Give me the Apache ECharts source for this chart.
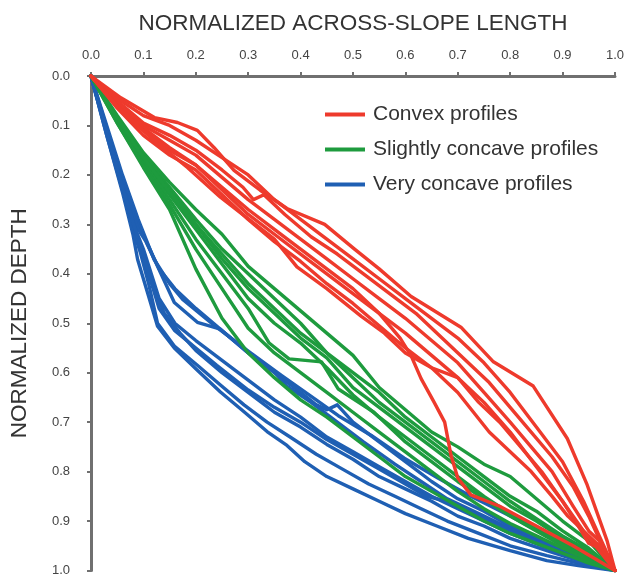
<!DOCTYPE html>
<html><head><meta charset="utf-8">
<script src="https://cdn.jsdelivr.net/npm/echarts@6/dist/echarts.min.js"></script>
<style>html,body{margin:0;padding:0;background:#fff}#c{width:627px;height:577px}</style>
</head><body><div id="c"></div>
<script>
var xTicks = [0,0.1,0.2,0.3,0.4,0.5,0.6,0.7,0.8,0.9,1.0];
var yTicks = [0,0.1,0.2,0.3,0.4,0.5,0.6,0.7,0.8,0.9,1.0];
var groupNames = ['Convex profiles','Slightly concave profiles','Very concave profiles'];
var groupColors = ['#ee3a2c','#1e9b3e','#1f5fb3'];
var gridX = [0,0.05,0.1,0.15,0.2,0.25,0.3,0.35,0.4,0.45,0.5,0.55,0.6,0.65,0.7,0.75,0.8,0.85,0.9,0.95,1];

var convex = [
 [[0,0],[0.057,0.044],[0.121,0.084],[0.165,0.094],[0.203,0.11],[0.235,0.145],[0.273,0.191],[0.323,0.231],[0.374,0.268],[0.446,0.30],[0.503,0.35],[0.55,0.39],[0.611,0.446],[0.706,0.508],[0.768,0.578],[0.844,0.627],[0.909,0.733],[0.947,0.827],[0.985,0.94],[1,1]],
 [[0,0],[0.05,0.045],[0.1,0.08],[0.15,0.1],[0.2,0.13],[0.25,0.165],[0.3,0.2],[0.35,0.25],[0.4,0.29],[0.45,0.33],[0.5,0.37],[0.55,0.41],[0.6,0.45],[0.65,0.49],[0.7,0.53],[0.75,0.58],[0.8,0.64],[0.85,0.71],[0.9,0.78],[0.94,0.86],[0.97,0.93],[1,1]],
 [[0,0],[0.05,0.05],[0.1,0.095],[0.15,0.12],[0.2,0.15],[0.25,0.19],[0.29,0.225],[0.31,0.25],[0.33,0.24],[0.37,0.28],[0.42,0.325],[0.47,0.36],[0.52,0.40],[0.57,0.44],[0.62,0.48],[0.67,0.53],[0.72,0.58],[0.76,0.62],[0.8,0.67],[0.84,0.72],[0.88,0.77],[0.92,0.83],[0.95,0.89],[0.98,0.96],[1,1]],
 [[0,0],[0.05,0.055],[0.1,0.10],[0.15,0.13],[0.2,0.16],[0.25,0.205],[0.3,0.25],[0.35,0.29],[0.4,0.33],[0.45,0.37],[0.5,0.41],[0.55,0.45],[0.6,0.49],[0.65,0.535],[0.7,0.58],[0.75,0.64],[0.8,0.70],[0.84,0.75],[0.88,0.80],[0.92,0.87],[0.95,0.92],[0.97,0.94],[1,1]],
 [[0,0],[0.05,0.06],[0.1,0.105],[0.15,0.145],[0.2,0.18],[0.25,0.225],[0.3,0.27],[0.35,0.31],[0.4,0.35],[0.45,0.39],[0.5,0.43],[0.55,0.48],[0.59,0.53],[0.611,0.566],[0.63,0.612],[0.655,0.66],[0.675,0.7],[0.687,0.767],[0.7,0.813],[0.725,0.847],[0.78,0.87],[0.85,0.91],[0.92,0.95],[1,1]],
 [[0,0],[0.05,0.06],[0.1,0.11],[0.15,0.15],[0.2,0.18],[0.25,0.23],[0.3,0.28],[0.35,0.32],[0.4,0.36],[0.45,0.40],[0.5,0.44],[0.55,0.48],[0.6,0.52],[0.65,0.565],[0.7,0.61],[0.74,0.66],[0.78,0.70],[0.82,0.75],[0.86,0.80],[0.9,0.86],[0.93,0.91],[0.95,0.945],[0.97,0.955],[1,1]],
 [[0,0],[0.05,0.065],[0.1,0.12],[0.15,0.16],[0.2,0.19],[0.25,0.24],[0.3,0.29],[0.35,0.335],[0.4,0.375],[0.45,0.42],[0.5,0.46],[0.55,0.505],[0.6,0.55],[0.65,0.59],[0.7,0.64],[0.73,0.68],[0.76,0.72],[0.8,0.76],[0.84,0.80],[0.88,0.85],[0.91,0.89],[0.94,0.92],[0.97,0.95],[1,1]],
 [[0,0],[0.057,0.07],[0.12,0.13],[0.184,0.185],[0.247,0.245],[0.31,0.297],[0.35,0.33],[0.393,0.386],[0.45,0.43],[0.516,0.486],[0.56,0.52],[0.6,0.56],[0.65,0.59],[0.7,0.61],[0.75,0.66],[0.8,0.72],[0.85,0.79],[0.9,0.86],[0.94,0.92],[0.97,0.96],[1,1]]
];

var slightG1 = [0,0.08,0.155,0.215,0.27,0.32,0.385,0.43,0.475,0.52,0.565,0.63,0.675,0.72,0.75,0.785,0.81,0.855,0.9,0.94,1];
var slightG2 = [0,0.085,0.16,0.225,0.29,0.35,0.40,0.45,0.50,0.56,0.60,0.64,0.69,0.73,0.77,0.81,0.85,0.88,0.92,0.955,1];
var slightG3 = [0,0.085,0.165,0.23,0.30,0.37,0.43,0.48,0.53,0.57,0.63,0.67,0.71,0.75,0.79,0.83,0.87,0.90,0.935,0.965,1];
var slightG4 = [0,0.09,0.17,0.24,0.31,0.38,0.45,0.50,0.54,0.59,0.645,0.69,0.73,0.77,0.81,0.85,0.885,0.915,0.945,0.97,1];
var slightG6 = [0,0.095,0.18,0.26,0.35,0.43,0.51,0.56,0.60,0.64,0.68,0.72,0.76,0.80,0.84,0.875,0.905,0.93,0.955,0.98,1];
var slightG7 = [0,0.095,0.185,0.27,0.39,0.49,0.56,0.61,0.655,0.69,0.73,0.77,0.81,0.84,0.87,0.90,0.925,0.945,0.965,0.985,1];
var slightG8 = [0,0.085,0.165,0.235,0.30,0.36,0.42,0.47,0.52,0.56,0.61,0.66,0.70,0.74,0.78,0.82,0.86,0.895,0.93,0.96,1];
var slightG5 = [[0,0],[0.05,0.09],[0.1,0.175],[0.15,0.25],[0.2,0.33],[0.25,0.40],[0.3,0.47],[0.34,0.54],[0.378,0.572],[0.44,0.578],[0.472,0.633],[0.54,0.68],[0.6,0.74],[0.65,0.78],[0.7,0.82],[0.75,0.855],[0.8,0.89],[0.85,0.92],[0.9,0.95],[0.95,0.975],[1,1]];

var veryConcave = [
 [[0,0],[0.03,0.1],[0.06,0.2],[0.09,0.29],[0.105,0.33],[0.12,0.37],[0.15,0.42],[0.175,0.452],[0.237,0.506],[0.302,0.558],[0.364,0.606],[0.427,0.653],[0.472,0.687],[0.535,0.727],[0.598,0.773],[0.662,0.813],[0.725,0.85],[0.8,0.89],[0.87,0.93],[0.93,0.96],[1,1]],
 [[0,0],[0.03,0.105],[0.06,0.21],[0.09,0.3],[0.11,0.345],[0.13,0.39],[0.16,0.43],[0.2,0.47],[0.25,0.515],[0.3,0.56],[0.35,0.6],[0.4,0.64],[0.43,0.665],[0.45,0.675],[0.47,0.665],[0.5,0.7],[0.55,0.74],[0.6,0.78],[0.65,0.82],[0.7,0.855],[0.75,0.88],[0.8,0.91],[0.87,0.945],[0.93,0.97],[1,1]],
 [[0,0],[0.03,0.11],[0.06,0.22],[0.09,0.31],[0.105,0.335],[0.121,0.371],[0.159,0.458],[0.203,0.498],[0.247,0.512],[0.298,0.558],[0.349,0.598],[0.374,0.627],[0.42,0.66],[0.47,0.7],[0.52,0.74],[0.58,0.785],[0.63,0.82],[0.68,0.855],[0.74,0.885],[0.8,0.915],[0.87,0.95],[0.93,0.975],[1,1]],
 [[0,0],[0.03,0.11],[0.06,0.22],[0.085,0.31],[0.1,0.35],[0.115,0.4],[0.13,0.45],[0.16,0.5],[0.2,0.535],[0.25,0.575],[0.3,0.615],[0.35,0.655],[0.4,0.69],[0.45,0.73],[0.5,0.76],[0.55,0.79],[0.6,0.82],[0.65,0.85],[0.7,0.875],[0.75,0.9],[0.8,0.925],[0.86,0.95],[0.93,0.975],[1,1]],
 [[0,0],[0.03,0.115],[0.06,0.225],[0.085,0.32],[0.1,0.36],[0.12,0.43],[0.14,0.48],[0.17,0.52],[0.2,0.555],[0.25,0.6],[0.3,0.64],[0.35,0.68],[0.4,0.71],[0.45,0.745],[0.5,0.775],[0.55,0.81],[0.6,0.835],[0.65,0.86],[0.7,0.89],[0.75,0.91],[0.8,0.935],[0.87,0.96],[0.93,0.98],[1,1]],
 [[0,0],[0.03,0.12],[0.06,0.23],[0.08,0.31],[0.095,0.36],[0.11,0.42],[0.127,0.5],[0.159,0.546],[0.203,0.585],[0.247,0.625],[0.292,0.665],[0.336,0.7],[0.38,0.73],[0.43,0.765],[0.48,0.795],[0.53,0.825],[0.58,0.85],[0.63,0.875],[0.68,0.9],[0.74,0.925],[0.8,0.95],[0.87,0.97],[0.93,0.985],[1,1]],
 [[0,0],[0.03,0.12],[0.06,0.235],[0.08,0.32],[0.089,0.371],[0.127,0.506],[0.159,0.55],[0.203,0.595],[0.247,0.639],[0.292,0.679],[0.336,0.719],[0.374,0.747],[0.408,0.78],[0.45,0.81],[0.5,0.835],[0.55,0.86],[0.6,0.885],[0.66,0.91],[0.72,0.935],[0.8,0.96],[0.87,0.98],[0.93,0.99],[1,1]],
 [[0,0],[0.03,0.115],[0.06,0.225],[0.09,0.33],[0.11,0.4],[0.13,0.47],[0.16,0.515],[0.2,0.55],[0.24,0.585],[0.3,0.635],[0.35,0.67],[0.4,0.7],[0.45,0.735],[0.5,0.765],[0.55,0.795],[0.6,0.825],[0.64,0.85],[0.68,0.86],[0.72,0.88],[0.78,0.91],[0.85,0.94],[0.92,0.965],[1,1]]
];

function zipGrid(ys){ return ys.map(function(y,i){ return [gridX[i], y]; }); }
var slight = [zipGrid(slightG1), zipGrid(slightG2), zipGrid(slightG3), zipGrid(slightG4), slightG5, zipGrid(slightG6), zipGrid(slightG7), zipGrid(slightG8)];

var groups = [veryConcave, slight, convex];
var groupIdx = [2, 1, 0];
var series = [];
groups.forEach(function(lines, gi){
  var k = groupIdx[gi];
  lines.forEach(function(pts){
    series.push({
      type: 'line', name: groupNames[k], data: pts, showSymbol: false, symbol: 'none',
      lineStyle: { color: groupColors[k], width: 3.4, join: 'round', cap: 'round' },
      itemStyle: { color: groupColors[k] },
      emphasis: { disabled: true }, silent: true
    });
  });
});

var font = '"Liberation Sans", Arial, Helvetica, sans-serif';
var chart = echarts.init(document.getElementById('c'), null, { renderer: 'canvas' });
chart.setOption({
  animation: false,
  backgroundColor: '#fff',
  grid: { left: 88, right: 12, top: 76, bottom: 3, containLabel: false },
  legend: {
    data: groupNames, left: 320, top: 99, orient: 'vertical', itemGap: 14,
    icon: 'rect', itemWidth: 40, itemHeight: 4, selectedMode: false,
    textStyle: { fontFamily: font, fontSize: 21, color: '#333', padding: [0,0,0,3] }
  },
  xAxis: {
    type: 'value', position: 'top', min: 0, max: 1, interval: 0.1,
    name: 'NORMALIZED ACROSS-SLOPE LENGTH', nameLocation: 'middle', nameGap: 41,
    nameTextStyle: { fontFamily: font, fontSize: 22.5, color: '#333' },
    axisLine: { show: true, onZero: false, lineStyle: { color: '#707070', width: 3 } },
    axisTick: { show: true, inside: false, length: 4, lineStyle: { color: '#707070', width: 2 } },
    axisLabel: { fontFamily: font, fontSize: 13, color: '#444', margin: 14,
      formatter: function(v){ return v.toFixed(1); } },
    splitLine: { show: false }
  },
  yAxis: {
    type: 'value', inverse: true, min: 0, max: 1, interval: 0.1,
    name: 'NORMALIZED DEPTH', nameLocation: 'middle', nameGap: 60, nameRotate: 90,
    nameTextStyle: { fontFamily: font, fontSize: 22.5, color: '#333' },
    axisLine: { show: true, onZero: false, lineStyle: { color: '#707070', width: 3 } },
    axisTick: { show: true, inside: false, length: 4, lineStyle: { color: '#707070', width: 2 } },
    axisLabel: { fontFamily: font, fontSize: 13, color: '#444', margin: 21,
      formatter: function(v){ return v.toFixed(1); } },
    splitLine: { show: false }
  },
  series: series
});
</script></body></html>
